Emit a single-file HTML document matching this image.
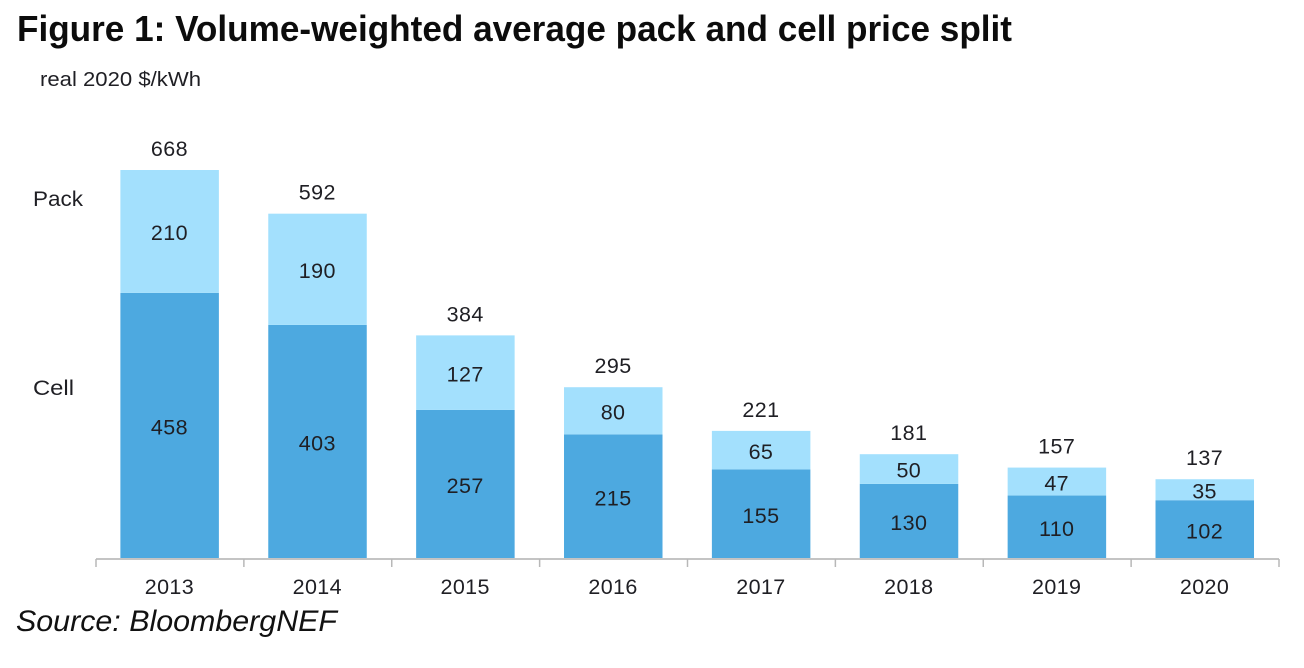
<!DOCTYPE html>
<html lang="en">
<head>
<meta charset="utf-8">
<title>Volume-weighted average pack and cell price split</title>
<style>
  html, body { margin: 0; padding: 0; background: #ffffff; }
  svg { display: block; }
  text { font-family: "Liberation Sans", sans-serif; fill: #1f1f24; }
</style>
</head>
<body>
<svg id="chart" xmlns="http://www.w3.org/2000/svg" width="1304" height="668" viewBox="0 0 1304 668">
  <rect width="1304" height="668" fill="#ffffff"/>
  <text x="17" y="41" font-size="36" font-weight="700" textLength="995" lengthAdjust="spacingAndGlyphs" style="fill:#0c0c0c">Figure 1: Volume-weighted average pack and cell price split</text>
  <text x="40" y="86" font-size="20.5" textLength="161" lengthAdjust="spacingAndGlyphs">real 2020 $/kWh</text>
  <text x="33" y="206" font-size="21.5" textLength="50" lengthAdjust="spacingAndGlyphs">Pack</text>
  <text x="33" y="395" font-size="21.5" textLength="41" lengthAdjust="spacingAndGlyphs">Cell</text>
  <g id="marks"></g>
  <g id="axis"></g>
  <text x="16" y="631" font-size="30" font-style="italic" textLength="321" lengthAdjust="spacingAndGlyphs" style="fill:#111111">Source: BloombergNEF</text>
</svg>
<script>
const categories = ["2013", "2014", "2015", "2016", "2017", "2018", "2019", "2020"];
const cellValues = [458, 403, 257, 215, 155, 130, 110, 102];
const packValues = [210, 190, 127, 80, 65, 50, 47, 35];
const totalLabels = [668, 592, 384, 295, 221, 181, 157, 137];

const NS = "http://www.w3.org/2000/svg";
const plot = { left: 96, right: 1279, base: 559, unitPx: 389 / 668, barWidth: 98.5 };
const band = (plot.right - plot.left) / categories.length;
const xCenter = function (i) { return plot.left + band * (i + 0.5); };
const yScale = function (v) { return plot.base - v * plot.unitPx; };
const marks = document.getElementById("marks");
const axis = document.getElementById("axis");

function make(tag, parent, attrs, content) {
  const el = document.createElementNS(NS, tag);
  Object.keys(attrs).forEach(function (k) { el.setAttribute(k, attrs[k]); });
  if (content !== undefined) el.textContent = content;
  parent.appendChild(el);
  return el;
}

function label(parent, x, y, content) {
  return make("text", parent, {
    x: x, y: y, "font-size": 21.5, "text-anchor": "middle",
    "dominant-baseline": "central", "letter-spacing": 0.4
  }, content);
}

categories.forEach(function (cat, i) {
  const cx = xCenter(i);
  const x = cx - plot.barWidth / 2;
  const cell = cellValues[i];
  const pack = packValues[i];

  const cellBar = make("rect", marks, { x: x - 0.3, y: yScale(cell) + 0.6, width: plot.barWidth, height: plot.base - yScale(cell) - 0.6, fill: "#4da9e0" });
  
  

  const packBar = make("rect", marks, { x: x - 0.3, y: yScale(cell + pack), width: plot.barWidth, height: yScale(cell) - yScale(cell + pack) + 0.6, fill: "#a3e0fd" });
  
  

  const cellLabel = label(marks, cx - 0.5, yScale(cell / 2) + 2, cell);
  
  

  const packLabel = label(marks, cx - 0.5, yScale(cell + pack / 2) + 2, pack);
  
  

  const totalLabel = label(marks, cx - 0.5, yScale(cell + pack) - 21, totalLabels[i]);
  
  

  const tickLabel = label(axis, cx - 0.5, 587, cat);
  
  
});

const axisLine = make("line", axis, { x1: plot.left, x2: plot.right, y1: plot.base, y2: plot.base, stroke: "#c4c4c4", "stroke-width": 2 });



for (let i = 0; i <= categories.length; i++) {
  const tx = plot.left + band * i;
  const tick = make("line", axis, { x1: tx, x2: tx, y1: plot.base, y2: plot.base + 8, stroke: "#b8b8b8", "stroke-width": 1.5 });
  
  
}
</script>
</body>
</html>
